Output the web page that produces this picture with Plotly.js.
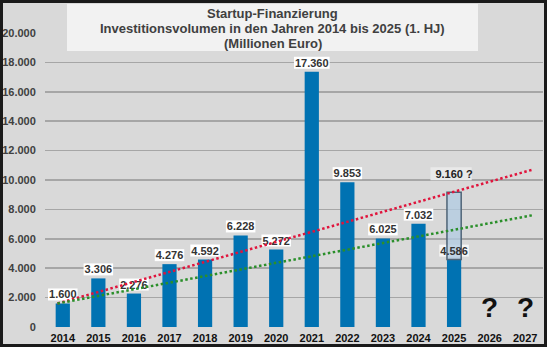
<!DOCTYPE html>
<html><head><meta charset="utf-8">
<script src="https://cdn.plot.ly/plotly-3.0.1.min.js"></script>
<style>
html,body{margin:0;padding:0;background:#fff}
#wrap{position:relative;width:552px;height:350px}
#chart{position:absolute;left:0;top:0;width:547px;height:347px}
#frame{position:absolute;left:0;top:0;width:547px;height:347px;box-sizing:border-box;border:3px solid #1a1a1a;pointer-events:none}
</style>
</head><body>
<div id="wrap"><div id="chart"></div><div id="frame"></div></div>
<script>
// ---- data ----
const years = [2014, 2015, 2016, 2017, 2018, 2019, 2020, 2021, 2022, 2023, 2024, 2025];
const volumes = [1600, 3306, 2276, 4276, 4592, 6228, 5272, 17360, 9853, 6025, 7032, 4586];
const estimateYears = [2025];
const estimateTotals = [9160];
const openYears = [2026, 2027];
const axisYears = [2014, 2015, 2016, 2017, 2018, 2019, 2020, 2021, 2022, 2023, 2024, 2025, 2026, 2027];
const trendX = [2013.85, 2027.2];
const trendRed = [1600, 10700];
const trendGreen = [1600, 7600];
const yTicks = [0, 2000, 4000, 6000, 8000, 10000, 12000, 14000, 16000, 18000, 20000];
const titleLines = ["Startup-Finanzierung", "Investitionsvolumen in den Jahren 2014 bis 2025 (1. HJ)", "(Millionen Euro)"];

// ---- helpers ----
const FONT = "Arial, 'Liberation Sans', sans-serif";
function de(n){ return String(n).replace(/\B(?=(\d{3})+(?!\d))/g, "."); }
const cv = document.createElement('canvas').getContext('2d');
cv.font = "bold 11px 'Liberation Sans', Arial, sans-serif";
function tw(s){ return cv.measureText(s).width; }

const labels = volumes.map(de);
const estLabels = estimateTotals.map(v => de(v) + " ?");
const estBase = estimateYears.map(y => volumes[years.indexOf(y)]);
const estHeight = estimateTotals.map((v, i) => v - estBase[i]);

const shapes = [];
// title box
shapes.push({type:'rect', xref:'paper', yref:'paper', layer:'above',
  x0:(67-45)/498, x1:(478-45)/498, y0:(327-51)/294, y1:(327-4)/294,
  fillcolor:'#f2f2f2', line:{width:0}});
// label boxes
labels.forEach((t, i) => {
  const w = tw(t) + 2;
  shapes.push({type:'rect', layer:'between', xref:'x', yref:'y',
    xsizemode:'pixel', ysizemode:'pixel', xanchor:years[i], yanchor:volumes[i],
    x0:-w/2, x1:w/2, y0:3, y1:15,
    fillcolor: years[i] === 2025 ? 'rgba(255,255,255,0.75)' : '#ffffff', line:{width:0}});
});
estLabels.forEach((t, i) => {
  const w = tw(t) + 4;
  shapes.push({type:'rect', layer:'between', xref:'x', yref:'y',
    xsizemode:'pixel', ysizemode:'pixel', xanchor:estimateYears[i], yanchor:estimateTotals[i],
    x0:-w/2 - 3, x1:w/2 - 3, y0:12, y1:25,
    fillcolor:'#e9e9e9', line:{width:0}});
});

const traces = [
  {type:'bar', x:years, y:volumes, width:0.4,
   marker:{color:'#0072b2', line:{width:0}}, hoverinfo:'skip'},
  {type:'bar', x:estimateYears, y:estHeight, base:estBase, width:0.4,
   marker:{color:'rgba(178,204,226,0.78)', line:{color:'#4f6477', width:1.5}}, hoverinfo:'skip'},
  {type:'scatter', mode:'markers+text', x:years, y:volumes, text:labels,
   textposition:'top center', marker:{size:2, opacity:0},
   textfont:{family:FONT, size:11, color:'#333333', weight:'bold'}, hoverinfo:'skip'},
  {type:'scatter', mode:'markers+text', x:estimateYears, y:estimateTotals, text:estLabels,
   textposition:'top center', marker:{size:17, opacity:0},
   textfont:{family:FONT, size:11, color:'#222222', weight:'bold'}, hoverinfo:'skip'},
  {type:'scatter', mode:'lines', x:trendX, y:trendRed,
   line:{color:'#e0143c', width:2.5, dash:'2.5px,2.5px'}, hoverinfo:'skip'},
  {type:'scatter', mode:'lines', x:trendX, y:trendGreen,
   line:{color:'#2a8f2a', width:2.5, dash:'2.5px,2.5px'}, hoverinfo:'skip'}
];

const annotations = openYears.map(y => ({
  x:y, y:0, xref:'x', yref:'y', text:'?', showarrow:false,
  yanchor:'middle', yshift:20,
  font:{family:FONT, size:28, color:'#111111', weight:'bold'}
}));
const titleCenters = [13.5, 28.5, 43.5];
titleLines.forEach((t, i) => annotations.push({
  xref:'paper', yref:'paper', x:(272.5-45)/498, y:(327-titleCenters[i])/294,
  xanchor:'center', yanchor:'middle', text:t, showarrow:false,
  font:{family:FONT, size:13, color:'#404040', weight:'bold'}
}));

const layout = {
  width:547, height:347,
  margin:{l:45, r:4, t:33, b:20},
  paper_bgcolor:'#d9d9d9', plot_bgcolor:'#d9d9d9',
  showlegend:false, barmode:'overlay',
  separators:',.',
  xaxis:{type:'linear', range:[2013.5, 2027.5], tickvals:axisYears, ticktext:axisYears.map(String),
    showgrid:false, zeroline:false, showline:false, ticks:'outside', ticklen:1, tickcolor:'rgba(0,0,0,0)',
    tickfont:{family:FONT, size:11, color:'#111111', weight:'bold'}, fixedrange:true},
  yaxis:{range:[0, 20000], tickvals:yTicks, tickformat:',d',
    showgrid:true, gridcolor:'#a6a6a6', gridwidth:1.5, zeroline:false, showline:false,
    ticks:'outside', ticklen:6, tickcolor:'rgba(0,0,0,0)',
    tickfont:{family:FONT, size:11, color:'#404040', weight:'bold'}, fixedrange:true},
  shapes:shapes,
  annotations:annotations
};

Plotly.newPlot('chart', traces, layout, {displayModeBar:false, staticPlot:true});
</script>
</body></html>
